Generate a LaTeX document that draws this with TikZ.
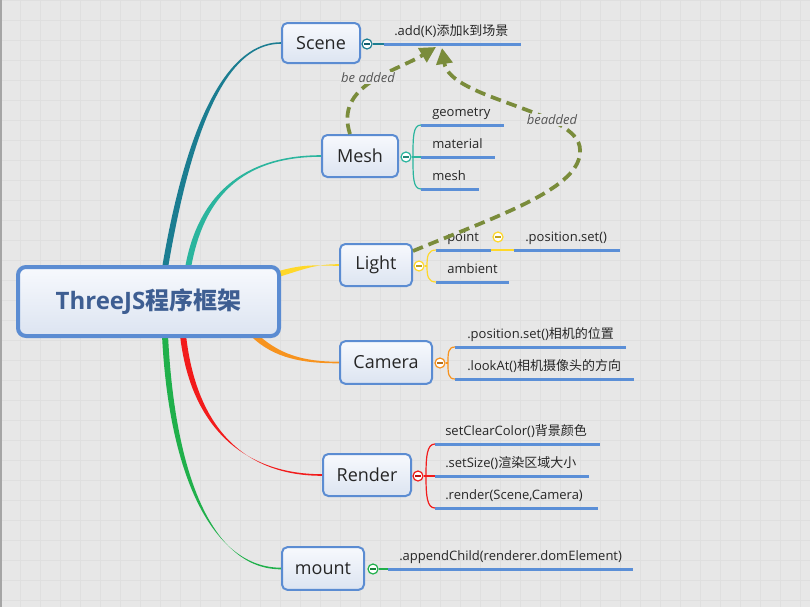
\documentclass[tikz,border=0pt]{standalone}
\usepackage{fontspec}
\setmainfont{Open Sans}
\newfontfamily\cjk{Noto Sans CJK SC}
\usetikzlibrary{arrows.meta,calc}
\definecolor{bgc}{HTML}{E7E7E7}
\definecolor{gridc}{HTML}{DFDFDF}
\definecolor{edgec}{HTML}{A5A5A5}
\definecolor{boxblue}{HTML}{5B8CD2}
\definecolor{ulblue}{HTML}{5B8FD7}
\definecolor{textdark}{HTML}{262626}
\definecolor{roottext}{HTML}{3E5E92}
\definecolor{boxtop}{HTML}{F7F9FD}
\definecolor{boxbot}{HTML}{DCE4F1}
\definecolor{scenec}{HTML}{1B7D91}
\definecolor{meshc}{HTML}{2BB59E}
\definecolor{lightc}{HTML}{FFD829}
\definecolor{camc}{HTML}{F7931E}
\definecolor{renc}{HTML}{F21B1B}
\definecolor{mountc}{HTML}{20B04B}
\definecolor{olive}{HTML}{7A8C3B}
\definecolor{lblgray}{HTML}{555555}
\pgfdeclarelayer{bglayer}
\pgfsetlayers{bglayer,main}
\newcommand{\topicf}{\fontsize{13.5pt}{16pt}\selectfont}
\newcommand{\subf}{\fontsize{9.75pt}{12pt}\selectfont}
\newcommand{\rootf}{\fontsize{18pt}{22pt}\selectfont\bfseries}
% tapered connector: colour, start, half-offset, c1 (rel start), c2 (rel end), end
\newcommand{\mmtaper}[6]{\fill[#1] ($(#2)+(#3)$) .. controls +(#4) and +(#5) .. ($(#6)+(0,-0.8)$) -- ($(#6)+(0,0.8)$) .. controls +(#5) and +(#4) .. ($(#2)-(#3)$) -- cycle;}
\begin{document}
\begin{tikzpicture}[x=0.75pt,y=-0.75pt,
  topic/.style={draw=boxblue, line width=1.5pt, rounded corners=4pt, top color=boxtop, bottom color=boxbot, inner sep=0pt, font=\topicf, text=textdark},
  rootbox/.style={draw=boxblue, line width=3pt, rounded corners=6pt, top color=boxtop, bottom color=boxbot, inner sep=0pt, font=\rootf, text=roottext, minimum width=195.75pt, minimum height=51.75pt},
  sub/.style={anchor=south west, inner ysep=6pt, text depth=0pt, text height=7.5pt, font=\subf, text=textdark, align=left},
  uline/.style={draw=ulblue, line width=2.25pt},
  br/.style={draw=#1, line width=0.9pt},
  coll/.style={circle, draw=#1, fill=white, minimum size=7.5pt, inner sep=0pt, line width=0.9pt,
    path picture={\draw[#1!75!black, line width=0.9pt] ([xshift=-2.1pt]path picture bounding box.center) -- ([xshift=2.1pt]path picture bounding box.center);}},
  dasharr/.style={draw=olive, line width=2.8pt, dash pattern=on 8pt off 4.5pt, -{Triangle[length=12pt,width=12pt]}},
  lbl/.style={font=\subf\itshape, text=lblgray, fill=bgc, inner sep=1pt}
]
\useasboundingbox (0,0) rectangle (810,607);

% ---------- nodes ----------
\node[rootbox] (root) at (148.5,301.5) {ThreeJS{\cjk 程序框架}};
\node[topic, minimum width=58.5pt, minimum height=30pt] (scene) at (321,43) {Scene};
\node[topic, minimum width=57pt, minimum height=31.5pt] (mesh) at (360,156) {Mesh};
\node[topic, minimum width=54pt, minimum height=31.5pt] (light) at (376,265) {Light};
\node[topic, minimum width=69pt, minimum height=32pt] (camera) at (386,362.5) {Camera};
\node[topic, minimum width=66pt, minimum height=31.5pt] (render) at (367,475) {Render};
\node[topic, minimum width=61.5pt, minimum height=32pt] (mount) at (323,568.5) {mount};

% ---------- root connectors ----------
\coordinate (s0) at (165,268);
\coordinate (m0) at (188,268);
\coordinate (l0) at (272,276);
\coordinate (c0) at (252,333);
\coordinate (r0) at (183,335);
\coordinate (w0) at (165,335);
\begin{pgfonlayer}{bglayer}
\fill[bgc] (0,0) rectangle (810,607);
\foreach \i in {0,20,...,800} \draw[gridc, line width=0.4pt] (\i,0) -- (\i,607);
\foreach \j in {0,20,...,600} \draw[gridc, line width=0.4pt] (0,\j) -- (810,\j);
\draw[edgec, line width=1.2pt] (0.8,0) -- (0.8,607);
\mmtaper{scenec}{s0}{-3,0}{30,-177}{-42,0}{scene.west}
\mmtaper{meshc}{m0}{-3,0}{14,-80}{-70,0}{mesh.west}
\mmtaper{lightc}{l0}{0,3}{33,-10}{-25,0}{light.west}
\mmtaper{camc}{c0}{2.1,-2.1}{24,24}{-35,0}{camera.west}
\mmtaper{renc}{r0}{-3,0}{10,90}{-80,0}{render.west}
\mmtaper{mountc}{w0}{-3,0}{7,144}{-67,0}{mount.west}
\end{pgfonlayer}

% ---------- sub topics ----------
\node[sub, inner xsep=7.5pt, text width=87pt] (sa) at (384,44) {.add(K){\cjk 添加}k{\cjk 到场景}};
\node[sub, inner xsep=8.25pt, text width=45pt] (mg) at (421,125) {geometry};
\node[sub, inner xsep=8.25pt, text width=38.25pt] (mm) at (421,157) {material};
\node[sub, inner xsep=8.25pt, text width=26.25pt] (mh) at (421,189) {mesh};
\node[sub, inner xsep=8.25pt, text width=24pt] (lp) at (436,250) {point};
\node[sub, inner xsep=8.25pt, text width=62.25pt] (lps) at (514,250) {.position.set()};
\node[sub, inner xsep=8.25pt, text width=37.5pt] (la) at (436,282) {ambient};
\node[sub, inner xsep=9pt, text width=109.5pt] (cp) at (455,347) {.position.set(){\cjk 相机的位置}};
\node[sub, inner xsep=9pt, text width=115.5pt] (cl) at (455,379) {.lookAt(){\cjk 相机摄像头的方向}};
\node[sub, inner xsep=7.5pt, text width=108pt] (rc) at (435,444) {setClearColor(){\cjk 背景颜色}};
\node[sub, inner xsep=7.5pt, text width=99.75pt] (rs) at (435,476) {.setSize(){\cjk 渲染区域大小}};
\node[sub, inner xsep=7.5pt, text width=106.5pt] (rr) at (435,508) {.render(Scene,Camera)};
\node[sub, inner xsep=8.25pt, text width=166.5pt] (ma) at (388,569) {.appendChild(renderer.domElement)};
\foreach \n in {sa,mg,mm,mh,lp,lps,la,cp,cl,rc,rs,rr,ma}
  \draw[uline] (\n.south west) -- (\n.south east);

% ---------- collapse markers and branches ----------
\node[coll=scenec] (sc) at (367,44) {};
\draw[br=scenec] (sc.east) -- (sa.south west);

\node[coll=meshc] (mc) at (406,157) {};
\coordinate (mj) at (413,157);
\draw[br=meshc] (mc.east) -- (mm.south west);
\draw[br=meshc] (mg.south west) .. controls +(-8,0) and +(0,-20) .. (mj) .. controls +(0,20) and +(-8,0) .. (mh.south west);

\node[coll=lightc] (lc) at (419,266) {};
\coordinate (lj) at (427,266);
\draw[br=lightc] (lc.east) -- (lj);
\draw[br=lightc] (lp.south west) .. controls +(-8,0) and +(0,-10) .. (lj) .. controls +(0,10) and +(-8,0) .. (la.south west);
\draw[br=lightc] (lp.south east) -- (lps.south west);
\node[coll=lightc] (lpc) at (498,237) {};

\node[coll=camc] (cc) at (440,363) {};
\coordinate (cj) at (448,363);
\draw[br=camc] (cc.east) -- (cj);
\draw[br=camc] (cp.south west) .. controls +(-7,0) and +(0,-10) .. (cj) .. controls +(0,10) and +(-7,0) .. (cl.south west);

\node[coll=renc] (rcc) at (418,476) {};
\coordinate (rj) at (426,476);
\draw[br=renc] (rcc.east) -- (rs.south west);
\draw[br=renc] (rc.south west) .. controls +(-8,0) and +(0,-20) .. (rj) .. controls +(0,20) and +(-8,0) .. (rr.south west);

\node[coll=mountc] (mtc) at (373,569) {};
\draw[br=mountc] (mtc.east) -- (ma.south west);

% ---------- relationships ----------
\coordinate (t1) at (436,47);
\coordinate (t2) at (442,48);
\coordinate (bend) at (580,150);
\draw[dasharr] ($(mesh.north)+(-10,0)$) .. controls (334,85) and (395,72) .. (t1);
\draw[dasharr] ($(light.east)+(0,-14)$) .. controls (500,215) and (582,188) .. (bend) .. controls (580,110) and (450,100) .. (t2);
\node[lbl] (lb1) at (368,78) {be added};
\node[lbl] (lb2) at (552,120) {beadded};
\end{tikzpicture}
\end{document}
